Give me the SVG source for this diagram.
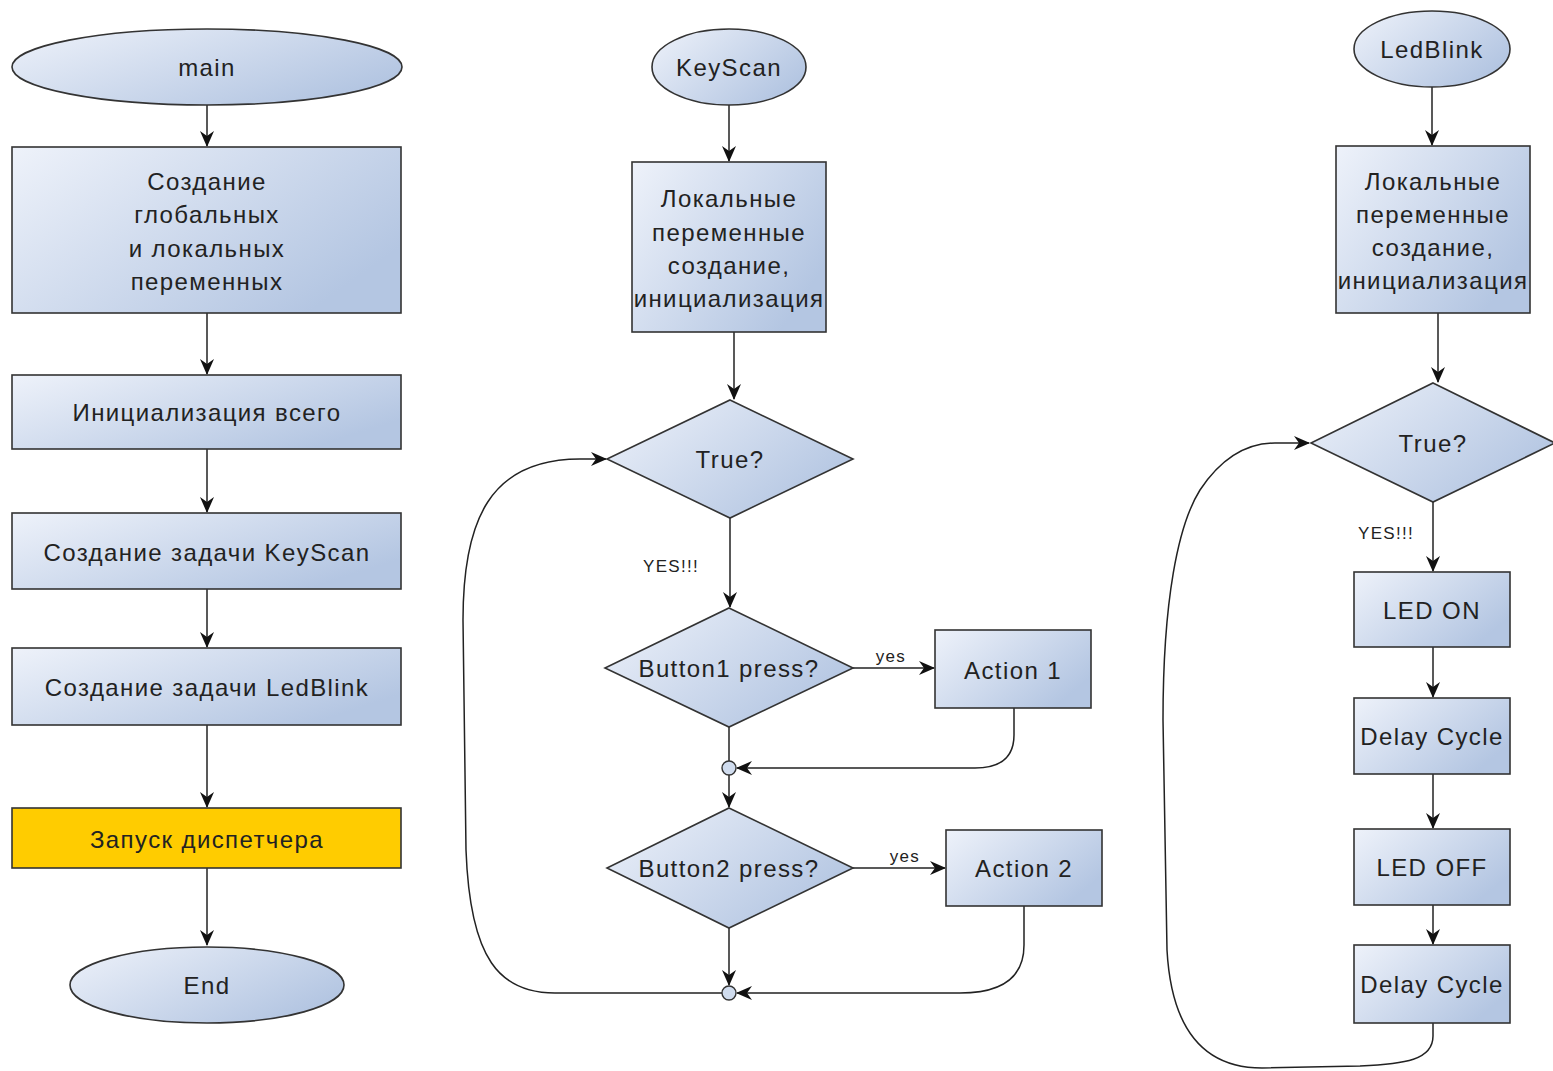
<svg xmlns="http://www.w3.org/2000/svg" width="1553" height="1071" viewBox="0 0 1553 1071">
<defs>
<linearGradient id="gb" x1="0" y1="0" x2="1" y2="0.6">
<stop offset="0" stop-color="#eef2fa"/>
<stop offset="1" stop-color="#b4c6e2"/>
</linearGradient>
<marker id="ah" viewBox="0 0 16 14" refX="15" refY="7" markerWidth="16" markerHeight="14" markerUnits="userSpaceOnUse" orient="auto">
<path d="M0,0 L16,7 L0,14 L5,7 z" fill="#111"/>
</marker>
<style>
.n{fill:url(#gb);stroke:#333;stroke-width:1.6}
.y{fill:#ffcc00;stroke:#333;stroke-width:1.6}
.t{font-family:"Liberation Sans",Arial,sans-serif;font-size:24px;letter-spacing:1.4px;fill:#222;text-anchor:middle}
.s{font-family:"Liberation Sans",Arial,sans-serif;font-size:17px;letter-spacing:1.3px;fill:#222;text-anchor:middle}
.c{fill:none;stroke:#222;stroke-width:1.5;marker-end:url(#ah)}
.p{fill:none;stroke:#222;stroke-width:1.5}
.j{fill:#d0dcee;stroke:#333;stroke-width:1.4}
</style>
</defs>
<rect width="1553" height="1071" fill="#fff"/>

<g id="connectors">
<path class="c" d="M207,105 L207,146"/>
<path class="c" d="M207,313 L207,374"/>
<path class="c" d="M207,449 L207,512"/>
<path class="c" d="M207,589 L207,647"/>
<path class="c" d="M207,725 L207,807"/>
<path class="c" d="M207,868 L207,945"/>

<path class="c" d="M729,105 L729,161"/>
<path class="c" d="M734,332 L734,399"/>
<path class="c" d="M730,518 L730,607"/>
<text class="s" x="671" y="572">YES!!!</text>
<path class="c" d="M853,668 L934,668"/>
<text class="s" x="891" y="662">yes</text>
<path class="p" d="M729,727 L729,761"/>
<path class="c" d="M1014,708 L1014,735 Q1014,768 975,768 L737,768"/>
<path class="c" d="M729,775 L729,807"/>
<path class="c" d="M853,868 L945,868"/>
<text class="s" x="905" y="862">yes</text>
<path class="c" d="M729,928 L729,985"/>
<path class="c" d="M1024,906 L1024,945 Q1024,993 960,993 L737,993"/>
<path class="c" d="M722,993 L555,993 C500,993 470,960 466,850 L463,620 C463,520 490,459 580,459 L606,459"/>

<path class="c" d="M1432,87 L1432,145"/>
<path class="c" d="M1438,313 L1438,382"/>
<path class="c" d="M1433,502 L1433,571"/>
<text class="s" x="1386" y="539">YES!!!</text>
<path class="c" d="M1433,647 L1433,697"/>
<path class="c" d="M1433,774 L1433,828"/>
<path class="c" d="M1433,905 L1433,944"/>
<path class="c" d="M1433,1023 L1433,1036 C1433,1060 1405,1064 1360,1066 L1262,1068 C1212,1068 1172,1040 1167,950 L1163,720 C1163,600 1178,525 1200,490 C1220,460 1245,443 1275,443 L1309,443"/>
</g>

<g id="main">
<ellipse class="n" cx="207" cy="67" rx="195" ry="38"/>
<text class="t" x="207" y="76">main</text>
</g>
<g id="create-vars">
<rect class="n" x="12" y="147" width="389" height="166"/>
<text class="t" x="207" y="190">Создание</text>
<text class="t" x="207" y="223">глобальных</text>
<text class="t" x="207" y="257">и локальных</text>
<text class="t" x="207" y="290">переменных</text>
</g>
<g id="init-all">
<rect class="n" x="12" y="375" width="389" height="74"/>
<text class="t" x="207" y="421">Инициализация всего</text>
</g>
<g id="create-keyscan">
<rect class="n" x="12" y="513" width="389" height="76"/>
<text class="t" x="207" y="561">Создание задачи KeyScan</text>
</g>
<g id="create-ledblink">
<rect class="n" x="12" y="648" width="389" height="77"/>
<text class="t" x="207" y="696">Создание задачи LedBlink</text>
</g>
<g id="start-scheduler">
<rect class="y" x="12" y="808" width="389" height="60"/>
<text class="t" x="207" y="848">Запуск диспетчера</text>
</g>
<g id="end">
<ellipse class="n" cx="207" cy="985" rx="137" ry="38"/>
<text class="t" x="207" y="994">End</text>
</g>

<g id="keyscan">
<ellipse class="n" cx="729" cy="67" rx="77" ry="38"/>
<text class="t" x="729" y="76">KeyScan</text>
</g>
<g id="ks-vars">
<rect class="n" x="632" y="162" width="194" height="170"/>
<text class="t" x="729" y="207">Локальные</text>
<text class="t" x="729" y="241">переменные</text>
<text class="t" x="729" y="274">создание,</text>
<text class="t" x="729" y="307">инициализация</text>
</g>
<g id="ks-true">
<polygon class="n" points="730,400 853,459 730,518 607,459"/>
<text class="t" x="730" y="468">True?</text>
</g>
<g id="button1">
<polygon class="n" points="729,608 853,668 729,727 605,668"/>
<text class="t" x="729" y="677">Button1 press?</text>
</g>
<g id="action1">
<rect class="n" x="935" y="630" width="156" height="78"/>
<text class="t" x="1013" y="679">Action 1</text>
</g>
<g id="junction1">
<circle class="j" cx="729" cy="768" r="7"/>
</g>
<g id="button2">
<polygon class="n" points="729,808 853,868 729,928 607,868"/>
<text class="t" x="729" y="877">Button2 press?</text>
</g>
<g id="action2">
<rect class="n" x="946" y="830" width="156" height="76"/>
<text class="t" x="1024" y="877">Action 2</text>
</g>
<g id="junction2">
<circle class="j" cx="729" cy="993" r="7"/>
</g>

<g id="ledblink">
<ellipse class="n" cx="1432" cy="49" rx="78" ry="38"/>
<text class="t" x="1432" y="58">LedBlink</text>
</g>
<g id="lb-vars">
<rect class="n" x="1336" y="146" width="194" height="167"/>
<text class="t" x="1433" y="190">Локальные</text>
<text class="t" x="1433" y="223">переменные</text>
<text class="t" x="1433" y="256">создание,</text>
<text class="t" x="1433" y="289">инициализация</text>
</g>
<g id="lb-true">
<polygon class="n" points="1433,383 1555,443 1433,502 1311,443"/>
<text class="t" x="1433" y="452">True?</text>
</g>
<g id="led-on">
<rect class="n" x="1354" y="572" width="156" height="75"/>
<text class="t" x="1432" y="619">LED ON</text>
</g>
<g id="delay1">
<rect class="n" x="1354" y="698" width="156" height="76"/>
<text class="t" x="1432" y="745">Delay Cycle</text>
</g>
<g id="led-off">
<rect class="n" x="1354" y="829" width="156" height="76"/>
<text class="t" x="1432" y="876">LED OFF</text>
</g>
<g id="delay2">
<rect class="n" x="1354" y="945" width="156" height="78"/>
<text class="t" x="1432" y="993">Delay Cycle</text>
</g>
</svg>
